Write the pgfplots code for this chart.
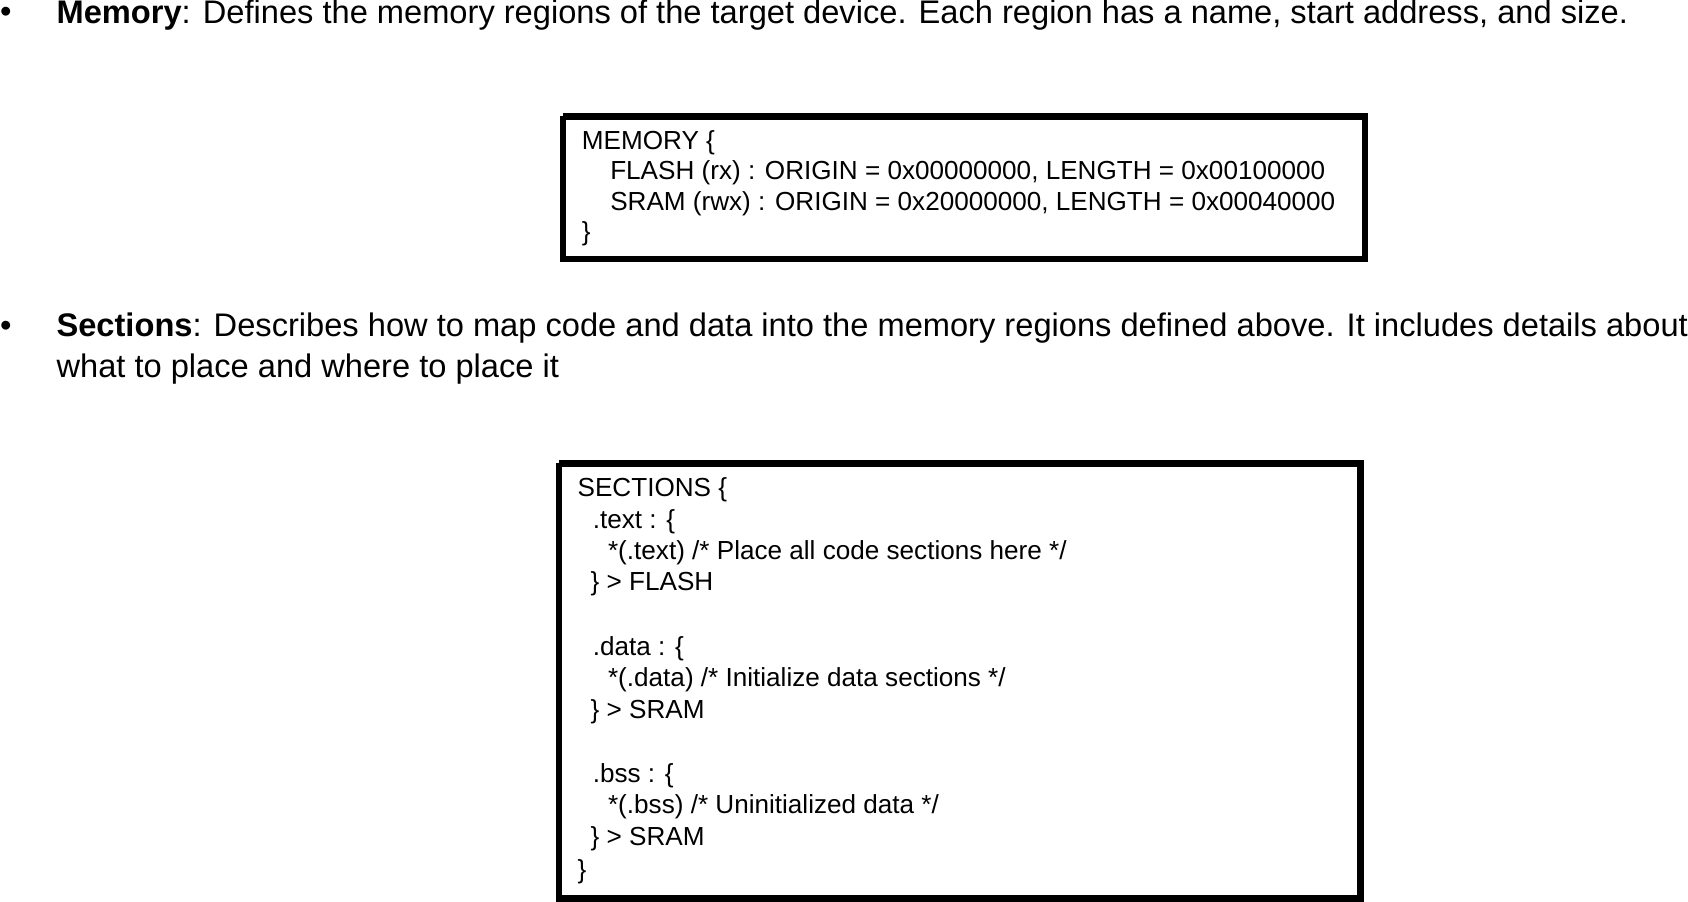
\documentclass[border=0pt]{standalone}
\usepackage{pgfplots}
\pgfplotsset{compat=1.18}
\usepackage{fontspec}
\setmainfont{Liberation Sans}
\newcommand\mf{\fontsize{22.5}{27}\selectfont}
\newcommand\bxf{\fontsize{18}{22}\selectfont}
\tikzset{tl/.style={inner sep=0pt, anchor=west}}
\begin{document}
\begin{tikzpicture}
\begin{axis}[scale only axis, width=1266pt, height=649.5pt,
  xmin=0, xmax=1688, ymin=0, ymax=866, y dir=reverse, hide axis, clip=false]
\addplot[black, line width=4.5pt, line join=miter] coordinates {(550,130) (1287,130) (1287,261) (550,261) (550,130)};
\addplot[black, line width=4.5pt, line join=miter] coordinates {(546,449) (1283,449) (1283,849) (546,849) (546,449)};
\node[tl,font=\mf] at (axis cs:32,37) {•};
\node[tl,font=\mf] at (axis cs:84,37) {\textbf{Memory}: Defines the memory regions of the target device. Each region has a name, start address, and size.};
\node[tl,font=\mf] at (axis cs:32,325) {•};
\node[tl,font=\mf] at (axis cs:84,325) {\textbf{Sections}: Describes how to map code and data into the memory regions defined above. It includes details about};
\node[tl,font=\mf] at (axis cs:84,362) {what to place and where to place it};
\node[tl,font=\bxf] at (axis cs:567,154) {MEMORY \{};
\node[tl,font=\bxf] at (axis cs:593,182) {FLASH (rx) : ORIGIN = 0x00000000, LENGTH = 0x00100000};
\node[tl,font=\bxf] at (axis cs:593,210) {SRAM (rwx) : ORIGIN = 0x20000000, LENGTH = 0x00040000};
\node[tl,font=\bxf] at (axis cs:567,238) {\}};
\node[tl,font=\bxf] at (axis cs:563,473) {SECTIONS \{};
\node[tl,font=\bxf] at (axis cs:577,503) {.text : \{};
\node[tl,font=\bxf] at (axis cs:591,531) {*(.text) /* Place all code sections here */};
\node[tl,font=\bxf] at (axis cs:575,560) {\} > FLASH};
\node[tl,font=\bxf] at (axis cs:577,619) {.data : \{};
\node[tl,font=\bxf] at (axis cs:591,648) {*(.data) /* Initialize data sections */};
\node[tl,font=\bxf] at (axis cs:575,677) {\} > SRAM};
\node[tl,font=\bxf] at (axis cs:577,736) {.bss : \{};
\node[tl,font=\bxf] at (axis cs:591,765) {*(.bss) /* Uninitialized data */};
\node[tl,font=\bxf] at (axis cs:575,794) {\} > SRAM};
\node[tl,font=\bxf] at (axis cs:563,824) {\}};
\end{axis}
\end{tikzpicture}
\end{document}
